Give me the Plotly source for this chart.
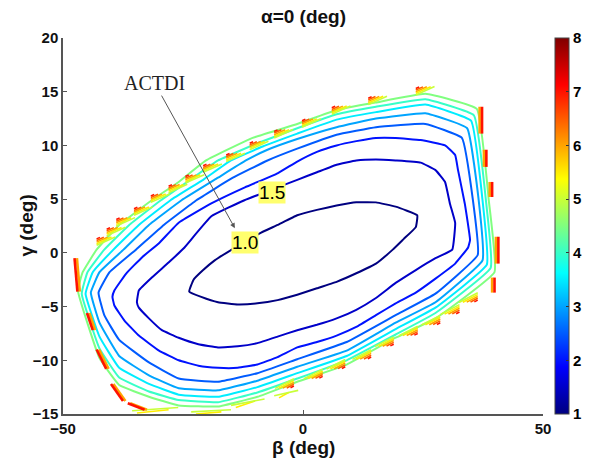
import plotly.graph_objects as go
from plotly.colors import sample_colorscale

# ---------------- data ----------------
LEVELS = [1.0, 1.5, 2.0, 2.5, 3.0, 3.5, 4.0, 4.5]

C10_X = [-23.7, -21.2, -17.7, -13.6, -9.5, -5.3, -1.2, 2.9, 7.0, 11.1, 15.2, 18.7, 21.0, 23.5, 23.8,
         19.3, 15.2, 11.1, 7.0, 2.9, -1.2, -5.3, -9.1, -15.6, -18.4, -20.8, -22.8, -23.7]
C10_Y = [-3.6, -4.1, -4.6, -4.8, -4.7, -4.4, -3.9, -3.3, -2.7, -1.9, -1.0, 0.3, 1.3, 2.4, 3.5,
         4.3, 4.7, 4.7, 4.4, 4.0, 3.5, 2.6, 1.8, 0.1, -0.7, -1.6, -2.5, -3.6]

C15_X = [-34.6, -34.2, -32.1, -29.4, -25.9, -21.8, -17.7, -13.6, -9.5, -5.3, -1.2, 2.9, 7.0, 11.1, 15.2,
         19.3, 23.5, 27.6, 31.1, 31.7, 30.6, 29.6, 27.6, 24.5, 19.3, 15.2, 11.1, 7.0, 2.9, -1.2, -5.3,
         -12.2, -19.1, -24.9, -28.0, -31.5, -34.2, -34.6]
C15_Y = [-4.6, -5.1, -6.1, -7.2, -7.9, -8.5, -8.8, -8.7, -8.4, -7.8, -7.2, -6.7, -6.1, -5.3, -4.2,
         -2.8, -1.6, -0.5, 0.3, 2.8, 4.6, 6.6, 7.7, 8.4, 8.6, 8.7, 8.6, 8.2, 7.5, 6.8, 6.1,
         4.9, 3.4, 0.4, -0.9, -2.3, -3.5, -4.6]

C20_X = [-39.7, -39.3, -36.8, -33.5, -30.0, -25.9, -19.1, -12.1, -5.3, -1.2, 2.9, 7.0, 11.1, 15.2, 19.3,
         24.5, 29.6, 31.7, 32.3, 33.7, 34.8, 34.4, 31.7, 27.6, 23.5, 19.3, 15.2, 11.1, 7.0, 2.9, -1.2,
         -5.3, -9.5, -13.6, -17.7, -21.8, -25.9, -30.0, -34.2, -37.2, -39.3, -39.7]
C20_Y = [-4.1, -3.5, -1.9, -0.4, 0.9, 2.8, 4.6, 6.1, 7.4, 8.5, 9.4, 10.0, 10.4, 10.7, 10.7,
         10.5, 10.0, 9.1, 7.7, 4.6, 1.2, 0.5, -1.0, -2.4, -3.7, -4.7, -5.8, -6.9, -7.7, -8.3, -8.8,
         -9.7, -10.4, -10.7, -10.7, -10.5, -10.0, -9.1, -7.7, -6.3, -4.9, -4.1]

C25_X = [-42.6, -40.3, -34.8, -29.0, -22.2, -14.6, -7.4, -1.2, 7.0, 15.2, 25.5, 33.1, 35.4, 36.4,
         27.6, 19.3, 9.1, -1.2, -9.5, -17.7, -25.9, -32.1, -38.3, -41.4, -42.6]
C25_Y = [-3.7, -1.8, 0.3, 2.6, 4.9, 7.0, 8.6, 9.7, 11.0, 11.7, 12.0, 10.7, 4.9, -0.2,
         -3.8, -5.8, -8.3, -9.9, -11.2, -12.0, -11.7, -10.2, -8.1, -5.8, -3.7]

C30_X = [-44.2, -42.4, -37.4, -32.1, -25.3, -17.7, -11.9, -7.4, -1.2, 7.0, 15.2, 25.5, 34.2, 36.6, 37.4,
         27.6, 19.3, 9.1, -1.2, -9.5, -17.7, -25.9, -32.1, -38.3, -42.4, -44.2]
C30_Y = [-3.7, -1.8, 0.3, 2.6, 4.9, 7.0, 8.6, 9.6, 10.6, 11.7, 12.5, 13.0, 11.6, 4.9, -0.7,
         -4.6, -6.5, -9.1, -10.6, -11.9, -12.8, -12.6, -11.4, -9.6, -6.5, -3.7]

C35_X = [-45.3, -43.8, -39.5, -34.2, -27.6, -20.8, -15.0, -8.4, -1.2, 7.0, 15.2, 25.5, 35.0, 37.4, 38.3,
         27.6, 19.3, 9.1, -1.2, -9.5, -17.7, -25.9, -32.1, -38.3, -42.4, -45.3]
C35_Y = [-3.8, -1.8, 0.3, 2.6, 4.9, 6.8, 8.6, 9.9, 11.1, 12.4, 13.1, 13.8, 12.3, 4.9, -1.1,
         -5.1, -7.1, -9.6, -11.2, -12.5, -13.4, -13.2, -12.2, -10.7, -7.8, -3.8]

C40_X = [-46.1, -44.9, -41.4, -36.2, -29.6, -23.5, -17.7, -9.5, -1.2, 7.0, 15.2, 25.5, 35.6, 38.1, 39.1,
         27.6, 19.3, 9.1, -1.2, -9.5, -17.7, -25.9, -32.1, -38.3, -42.4, -46.1]
C40_Y = [-3.8, -1.8, 0.3, 2.6, 4.9, 6.8, 8.6, 10.2, 11.6, 12.9, 13.6, 14.3, 12.8, 4.9, -1.4,
         -5.6, -7.6, -10.0, -11.7, -13.0, -13.9, -13.7, -12.9, -11.6, -8.9, -3.8]

C45_X = [-46.9, -45.9, -43.0, -38.3, -31.5, -25.9, -20.2, -10.5, -1.2, 7.0, 15.2, 25.5, 36.2, 38.7, 39.9,
         27.6, 19.3, 9.1, -1.2, -9.5, -17.7, -25.9, -32.1, -38.3, -42.4, -46.9]
C45_Y = [-3.5, -1.8, 0.3, 2.6, 4.9, 6.6, 8.6, 10.7, 12.0, 13.3, 14.0, 14.8, 13.4, 4.9, -1.8,
         -6.1, -7.9, -10.4, -12.0, -13.4, -14.3, -14.2, -13.4, -12.3, -9.8, -3.5]

CONTOURS_X = [C10_X, C15_X, C20_X, C25_X, C30_X, C35_X, C40_X, C45_X]
CONTOURS_Y = [C10_Y, C15_Y, C20_Y, C25_Y, C30_Y, C35_Y, C40_Y, C45_Y]

# boundary fringe (high-level contour pieces cut by the data edge)
FRINGE_LEVELS = [7.0, 6.5, 6.0, 5.5, 5.0]
UL_NOTCH_X = [-43.0, -40.9, -38.9, -35.2, -31.7, -28.0, -24.5, -20.8, -16.0, -11.1, -6.0, -0.2, 6.0, 13.6, 23.5]
UL_NOTCH_Y = [1.3, 2.2, 3.1, 4.1, 5.3, 6.2, 7.1, 8.1, 9.1, 10.2, 11.3, 12.3, 13.5, 14.4, 15.3]
LR_NOTCH_X = [36.4, 32.6, 28.6, 23.9, 18.9, 14.2, 8.8, 4.1, -1.9]
LR_NOTCH_Y = [-4.4, -5.5, -6.5, -7.5, -8.5, -9.7, -10.6, -11.5, -12.4]
RS_BAR_X = [37.3, 38.2, 39.4, 40.7, 39.9]
RS_BAR_Y0 = [13.6, 9.6, 6.6, 1.5, -2.3]
RS_BAR_Y1 = [11.1, 8.0, 5.2, -1.0, -3.7]
LL_BAR_X0 = [-47.6, -45.0, -43.0, -40.0, -36.5]
LL_BAR_X1 = [-47.0, -43.8, -41.0, -37.5, -33.0]
LL_BAR_Y0 = [-0.5, -5.6, -9.0, -12.2, -14.0]
LL_BAR_Y1 = [-3.6, -7.2, -10.8, -13.8, -14.6]
BOT_DASH_X0 = [-35.6, -23.3, -15.0, -6.0]
BOT_DASH_X1 = [-26.0, -15.0, -8.0, -1.0]
BOT_DASH_Y0 = [-14.7, -14.8, -14.2, -13.3]
BOT_DASH_Y1 = [-14.4, -14.6, -13.6, -12.8]

LABELS = ["1.5", "1.0"]
LABEL_X = [-6.4, -12.1]
LABEL_Y = [5.6, 1.0]

X_TICKS = [-50, 0, 50]
Y_TICKS = [-15, -10, -5, 0, 5, 10, 15, 20]
CB_TICKS = [1, 2, 3, 4, 5, 6, 7, 8]
CMIN, CMAX = 1, 8

# MATLAB jet
JET = [[0, 'rgb(0,0,128)'], [0.125, 'rgb(0,0,255)'], [0.375, 'rgb(0,255,255)'],
       [0.625, 'rgb(255,255,0)'], [0.875, 'rgb(255,0,0)'], [1, 'rgb(128,0,0)']]


def col(v):
    return sample_colorscale(JET, [(v - CMIN) / (CMAX - CMIN)])[0]


fig = go.Figure()

# main contour lines
for lev, xs, ys in zip(LEVELS, CONTOURS_X, CONTOURS_Y):
    fig.add_trace(go.Scatter(x=xs, y=ys, mode='lines', showlegend=False, hoverinfo='skip',
                             line=dict(color=col(lev), width=2, shape='spline', smoothing=0.3)))

# fringe pieces
fr = {lev: ([], []) for lev in FRINGE_LEVELS}
lens = [0.7, 1.5, 2.3, 3.1, 3.9]
for x0, y0 in zip(UL_NOTCH_X, UL_NOTCH_Y):
    for k, lev in enumerate(FRINGE_LEVELS):
        xa, ya = x0, y0 - 0.15 * k
        fr[lev][0].extend([xa, xa + lens[k], None])
        fr[lev][1].extend([ya, ya + 0.2 * lens[k], None])
for x0, y0 in zip(LR_NOTCH_X, LR_NOTCH_Y):
    for k, lev in enumerate(FRINGE_LEVELS):
        xa, ya = x0, y0 + 0.17 * k
        fr[lev][0].extend([xa, xa - lens[k], None])
        fr[lev][1].extend([ya, ya - 0.23 * lens[k], None])
for xa, xb, ya, yb in zip(BOT_DASH_X0, BOT_DASH_X1, BOT_DASH_Y0, BOT_DASH_Y1):
    fr[5.0][0].extend([xa, xb, None]); fr[5.0][1].extend([ya, yb, None])
    fr[5.5][0].extend([xa + 1, xb - 2, None]); fr[5.5][1].extend([ya - 0.2, yb - 0.2, None])

for lev in FRINGE_LEVELS:
    fig.add_trace(go.Scatter(x=fr[lev][0], y=fr[lev][1], mode='lines', showlegend=False,
                             hoverinfo='skip', line=dict(color=col(lev), width=1.6)))

# edge blobs (right side and lower-left)
bars = {7.0: ([], []), 6.0: ([], [])}
for x0, ya, yb in zip(RS_BAR_X, RS_BAR_Y0, RS_BAR_Y1):
    bars[7.0][0].extend([x0, x0, None]); bars[7.0][1].extend([ya, yb, None])
    bars[6.0][0].extend([x0 - 0.5, x0 - 0.5, None]); bars[6.0][1].extend([ya, yb, None])
for xa, xb, ya, yb in zip(LL_BAR_X0, LL_BAR_X1, LL_BAR_Y0, LL_BAR_Y1):
    bars[7.0][0].extend([xa, xb, None]); bars[7.0][1].extend([ya, yb, None])
    bars[6.0][0].extend([xa + 0.5, xb + 0.5, None]); bars[6.0][1].extend([ya, yb, None])
for lev in [6.0, 7.0]:
    fig.add_trace(go.Scatter(x=bars[lev][0], y=bars[lev][1], mode='lines', showlegend=False,
                             hoverinfo='skip', line=dict(color=col(lev), width=2.6)))

# colorbar carrier
fig.add_trace(go.Scatter(x=[None], y=[None], mode='markers', showlegend=False, hoverinfo='skip',
                         marker=dict(color=[CMIN], cmin=CMIN, cmax=CMAX, colorscale=JET, showscale=True,
                                     colorbar=dict(x=1.0247, xanchor='left', y=0.5, yanchor='middle',
                                                   len=1, lenmode='fraction', thickness=14, ypad=0, xpad=0,
                                                   outlinewidth=1, outlinecolor='#444',
                                                   tickvals=CB_TICKS, ticks='inside', ticklen=3,
                                                   tickcolor='#333',
                                                   tickfont=dict(family='Liberation Sans', size=15,
                                                                 color='black', weight='bold')))))

# contour labels
for t, x, y in zip(LABELS, LABEL_X, LABEL_Y):
    fig.add_annotation(x=x, y=y, text=t, showarrow=False, bgcolor='#ffff6e', borderpad=0,
                       font=dict(family='Liberation Sans', size=19, color='black'))

fig.add_annotation(x=-14.2, y=2.3, ax=-30.9, ay=15.8, axref='x', ayref='y', text='ACTDI',
                   showarrow=True, arrowhead=2, arrowsize=1, arrowwidth=1, arrowcolor='#555',
                   standoff=0, font=dict(family='Liberation Serif', size=20, color='#222'))

# titles
title_font = dict(family='Liberation Sans', size=19, color='#111', weight='bold')
fig.add_annotation(xref='paper', yref='paper', x=0.5, y=1.0567, xanchor='center', yanchor='middle',
                   text='α=0 (deg)', showarrow=False, font=title_font)
fig.add_annotation(xref='paper', yref='paper', x=0.5, y=-0.0878, xanchor='center', yanchor='middle',
                   text='β (deg)', showarrow=False, font=title_font)
fig.add_annotation(xref='paper', yref='paper', x=-0.078, y=0.5, xanchor='center', yanchor='middle',
                   text='γ (deg)', showarrow=False, textangle=-90, font=title_font)

axis_common = dict(showgrid=False, zeroline=False, showline=True, linecolor='#555', linewidth=1.5,
                   ticks='inside', ticklen=4, tickcolor='#555', mirror=False,
                   tickfont=dict(family='Liberation Sans', size=15, color='#111', weight='bold'))
fig.update_xaxes(range=[-50, 50], tickvals=X_TICKS, **axis_common)
fig.update_yaxes(range=[-15, 20], tickvals=Y_TICKS, **axis_common)

fig.update_layout(width=598, height=464, margin=dict(l=63, r=49, t=38, b=50),
                  plot_bgcolor='white', paper_bgcolor='white')

fig.write_html("out.html")
